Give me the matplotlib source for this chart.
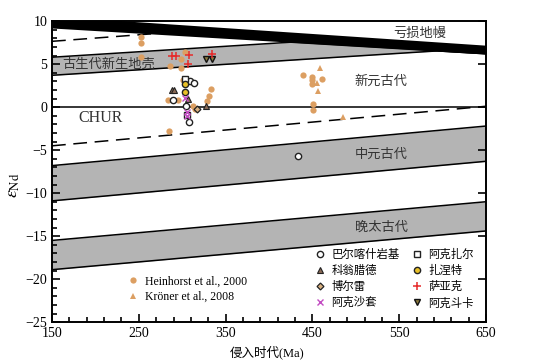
import numpy as np
import matplotlib
matplotlib.use('Agg')
import matplotlib.pyplot as plt
from matplotlib.lines import Line2D
from matplotlib.ticker import FixedLocator

plt.rcParams['font.family'] = ['Liberation Serif', 'Noto Sans CJK SC']
plt.rcParams['mathtext.fontset'] = 'stix'

# reference lines, values at 150 Ma and 650 Ma
x_ends = [150, 650]
mantle_top = [10.6, 7.2]
mantle_bot = [9.2, 6.2]
paleo_top = [5.8, 9.0]
paleo_bot = [3.7, 6.9]
dash_up_x = [150, 270]
dash_up_y = [7.65, 8.56]
dash_lo = [-4.5, 0.1]
meso_top = [-6.8, -2.2]
meso_bot = [-10.9, -6.3]
arch_top = [-15.5, -11.0]
arch_bot = [-18.9, -14.4]

# samples (age Ma, eNd)
heinhorst_x = [252, 252, 252, 286, 299, 299, 303, 301, 333, 331, 328, 284, 295, 312, 315, 285,
               439, 450, 450, 450, 461, 451, 451]
heinhorst_y = [8.2, 7.4, 5.8, 4.8, 5.6, 4.5, 6.4, 3.1, 2.1, 1.3, 0.7, 0.85, 0.85, 0.15, -0.2, -2.8,
               3.7, 3.5, 3.1, 2.7, 3.3, 0.35, -0.35]
kroner_x = [459, 455, 456, 485]
kroner_y = [4.5, 2.8, 1.9, -1.1]

baer_x = [309, 313, 289, 304, 308, 433]
baer_y = [3.0, 2.8, 0.8, 0.15, -1.7, -5.7]
akezhaer_x = [303, 305]
akezhaer_y = [3.3, -0.9]
kewengla_x = [288, 291, 307, 327]
kewengla_y = [2.0, 2.0, 0.9, 0.1]
zhaniete_x = [303, 303]
zhaniete_y = [2.7, 1.7]
boerlei_x = [317]
boerlei_y = [-0.25]
sayake_x = [288, 293, 308, 307, 334]
sayake_y = [6.0, 6.0, 6.1, 5.0, 6.2]
akeshatao_x = [303, 305, 305]
akeshatao_y = [1.1, -0.6, -1.0]
akedouka_x = [327, 334]
akedouka_y = [5.6, 5.6]

fig = plt.figure(figsize=(5.38, 3.64), dpi=100)
ax = fig.add_axes([0.0967, 0.115, 0.8067, 0.827])
ax.set_xlim(150, 650)
ax.set_ylim(-25, 10)

xs = np.linspace(150, 650, 501)
mb = np.interp(xs, x_ends, mantle_bot)
pt = np.minimum(np.interp(xs, x_ends, paleo_top), mb)
pb = np.minimum(np.interp(xs, x_ends, paleo_bot), mb)
gray = '#b4b4b4'

ax.fill_between(xs, pb, pt, color=gray, lw=0, zorder=1)
ax.plot(xs, pt, color='k', lw=1.1, zorder=2)
ax.plot(xs, pb, color='k', lw=1.1, zorder=2)
ax.fill_between(x_ends, meso_bot, meso_top, color=gray, lw=0, zorder=1)
ax.plot(x_ends, meso_top, color='k', lw=1.1, zorder=2)
ax.plot(x_ends, meso_bot, color='k', lw=1.1, zorder=2)
ax.fill_between(x_ends, arch_bot, arch_top, color=gray, lw=0, zorder=1)
ax.plot(x_ends, arch_top, color='k', lw=1.1, zorder=2)
ax.plot(x_ends, arch_bot, color='k', lw=1.1, zorder=2)
ax.fill_between(x_ends, mantle_bot, mantle_top, color='k', lw=0, zorder=3)
ax.axhline(0, color='k', lw=1.1, zorder=2)
ax.plot(dash_up_x, dash_up_y, color='k', lw=1.1, dashes=(9, 5), zorder=2)
ax.plot(x_ends, dash_lo, color='k', lw=1.1, dashes=(9, 5), zorder=2)

tc = '#333333'
ax.text(574, 8.55, '亏损地幔', fontsize=9.5, ha='center', va='center', color=tc, zorder=5)
ax.text(162, 4.9, '古生代新生地壳', fontsize=9.5, ha='left', va='center', color=tc, zorder=5)
ax.text(529, 3.0, '新元古代', fontsize=9.5, ha='center', va='center', color=tc, zorder=5)
ax.text(180, -1.3, 'CHUR', fontsize=11.5, ha='left', va='center', color=tc, zorder=5)
ax.text(529, -5.5, '中元古代', fontsize=9.5, ha='center', va='center', color=tc, zorder=5)
ax.text(529, -14.05, '晚太古代', fontsize=9.5, ha='center', va='center', color=tc, zorder=5)

orange = '#dc9f62'
ms = 4.5
styles = {
    'heinhorst': dict(marker='o', ms=ms, mfc=orange, mec=orange, mew=0),
    'kroner': dict(marker='^', ms=ms + 0.5, mfc=orange, mec=orange, mew=0),
    'baer': dict(marker='o', ms=ms, mfc='white', mec='#222222', mew=1.0),
    'akezhaer': dict(marker='s', ms=ms - 0.5, mfc='white', mec='#222222', mew=1.0),
    'kewengla': dict(marker='^', ms=ms, mfc='#8a6a55', mec='#222222', mew=0.8),
    'zhaniete': dict(marker='o', ms=ms, mfc='#e8c028', mec='#222222', mew=1.0),
    'boerlei': dict(marker='D', ms=ms - 1, mfc='#d8b080', mec='#222222', mew=0.9),
    'sayake': dict(marker='+', ms=ms + 1.5, mfc='none', mec='#e62a2a', mew=1.1),
    'akeshatao': dict(marker='x', ms=ms, mfc='none', mec='#c24cc2', mew=1.0),
    'akedouka': dict(marker='v', ms=ms, mfc='#8c7a3c', mec='#111111', mew=1.0),
}
series = [
    ('heinhorst', heinhorst_x, heinhorst_y),
    ('kroner', kroner_x, kroner_y),
    ('kewengla', kewengla_x, kewengla_y),
    ('baer', baer_x, baer_y),
    ('akezhaer', akezhaer_x, akezhaer_y),
    ('zhaniete', zhaniete_x, zhaniete_y),
    ('boerlei', boerlei_x, boerlei_y),
    ('akeshatao', akeshatao_x, akeshatao_y),
    ('akedouka', akedouka_x, akedouka_y),
    ('sayake', sayake_x, sayake_y),
]
for i, (key, sx, sy) in enumerate(series):
    ax.plot(sx, sy, ls='none', zorder=6 + i, **styles[key])

def h(key):
    return Line2D([], [], ls='none', **styles[key])

leg1 = ax.legend([h('heinhorst'), h('kroner')],
                 ['Heinhorst et al., 2000', 'Kröner et al., 2008'],
                 loc='upper left', bbox_to_anchor=(0.173, 0.155), frameon=False,
                 fontsize=8.5, handlelength=1.0, handletextpad=0.5, borderpad=0,
                 borderaxespad=0, labelspacing=0.3)
ax.add_artist(leg1)
keys2 = ['baer', 'kewengla', 'boerlei', 'akeshatao', 'akezhaer', 'zhaniete', 'sayake', 'akedouka']
names2 = ['巴尔喀什岩基', '科翁腊德', '博尔雷', '阿克沙套', '阿克扎尔', '扎涅特', '萨亚克', '阿克斗卡']
ax.legend([h(k) for k in keys2], names2, ncol=2, loc='upper left',
          bbox_to_anchor=(0.604, 0.245), frameon=False, fontsize=8.2,
          handlelength=1.0, handletextpad=0.5, borderpad=0, borderaxespad=0,
          labelspacing=0.45, columnspacing=1.0)

ax.xaxis.set_major_locator(FixedLocator(np.arange(150, 651, 100)))
ax.xaxis.set_minor_locator(FixedLocator(np.arange(150, 651, 20)))
ax.yaxis.set_major_locator(FixedLocator(np.arange(-25, 11, 5)))
ax.yaxis.set_minor_locator(FixedLocator(np.arange(-25, 11, 1)))
ax.tick_params(which='both', direction='in', top=False, right=True, labelsize=10, width=1.2)
ax.tick_params(which='major', length=6)
ax.tick_params(which='minor', length=3.5)
ax.tick_params(axis='y', which='minor', right=False)
for s in ax.spines.values():
    s.set_linewidth(1.4)

fig.text(0.026, 0.49, r'$\varepsilon_{\rm Nd}$', fontsize=13, rotation=90, ha='center', va='center')
fig.text(267 / 538, 1 - 352 / 364, '侵入时代(Ma)', fontsize=9, ha='center', va='center')

fig.savefig('out.png', dpi=100)
